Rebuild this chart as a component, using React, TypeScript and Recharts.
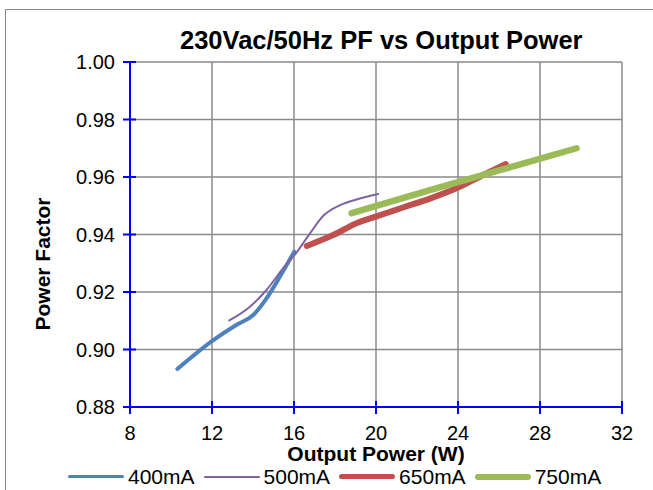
import React from 'react';
import { LineChart, Line, XAxis, YAxis, CartesianGrid } from 'recharts';

const xTicks = [8, 12, 16, 20, 24, 28, 32];
const yTicks = [0.88, 0.9, 0.92, 0.94, 0.96, 0.98, 1.0];

const power400 = [10.31, 11.98, 13.2, 14.01, 14.66, 15.31, 16.01];
const pf400 = [0.8932, 0.9028, 0.9086, 0.912, 0.9178, 0.9253, 0.934];

const power500 = [12.84, 13.85, 14.66, 15.47, 16.13, 16.78, 17.43, 18.24, 19.05, 20.11];
const pf500 = [0.9101, 0.9149, 0.9207, 0.9283, 0.9338, 0.9404, 0.9465, 0.9502, 0.9522, 0.9541];

const power650 = [16.62, 17.91, 19.05, 20.06, 21.32, 22.63, 24.09, 25.23, 26.33];
const pf650 = [0.936, 0.9398, 0.9439, 0.9464, 0.9494, 0.9525, 0.9566, 0.9607, 0.9645];

const power750 = [18.81, 22.63, 26.3, 29.78];
const pf750 = [0.9474, 0.9554, 0.9629, 0.97];

const seriesNames = ['400mA', '500mA', '650mA', '750mA'];
const seriesColors = ['#4F81BD', '#8064A2', '#C0504D', '#9BBB59'];
const seriesWidths = [4, 2, 6, 6.5];

const toPoints = (xs: number[], ys: number[]) => xs.map((x, i) => ({ x, y: ys[i] }));

const seriesData = [
  toPoints(power400, pf400),
  toPoints(power500, pf500),
  toPoints(power650, pf650),
  toPoints(power750, pf750),
];

const FONT = '"Liberation Sans", Arial, sans-serif';

function XTick(props: any) {
  const { x, y, payload } = props;
  return (
    <g>
      <line x1={x} x2={x} y1={y - 6} y2={y + 7} stroke="#0000FF" strokeWidth={2} />
      <text x={x} y={y + 33} textAnchor="middle" fontSize={20} fill="#000" fontFamily={FONT}>
        {payload.value}
      </text>
    </g>
  );
}

function YTick(props: any) {
  const { x, y, payload } = props;
  return (
    <g>
      <line x1={x - 7} x2={x + 6} y1={y} y2={y} stroke="#0000FF" strokeWidth={2} />
      <text x={x - 15} y={y + 7} textAnchor="end" fontSize={20} fill="#000" fontFamily={FONT}>
        {Number(payload.value).toFixed(2)}
      </text>
    </g>
  );
}

export default function App() {
  return (
    <div
      style={{
        position: 'absolute',
        left: 0,
        top: 0,
        width: 653,
        height: 490,
        overflow: 'hidden',
        background: '#fff',
        fontFamily: FONT,
      }}
    >
      <div
        style={{
          position: 'absolute',
          left: 5,
          top: 9,
          width: 800,
          height: 700,
          border: '1.5px solid #8a8a8a',
        }}
      />
      <div
        style={{
          position: 'absolute',
          left: 180,
          width: 400,
          top: 28,
          textAlign: 'center',
          fontSize: 25.5,
          lineHeight: '25px',
          fontWeight: 'bold',
          whiteSpace: 'nowrap',
        }}
      >
        230Vac/50Hz PF vs Output Power
      </div>
      <div style={{ position: 'absolute', left: 0, top: 0 }}>
        <LineChart width={653} height={490} margin={{ top: 62, right: 31, left: 0, bottom: 0 }}>
          <CartesianGrid stroke="#8a8a8a" strokeWidth={1.5} horizontalValues={yTicks} verticalValues={xTicks} />
          <XAxis
            type="number"
            dataKey="x"
            domain={[8, 32]}
            ticks={xTicks}
            interval={0}
            height={83}
            tickSize={0}
            tickMargin={0}
            tickLine={false}
            axisLine={{ stroke: '#0000FF', strokeWidth: 2 }}
            tick={<XTick />}
            label={{
              value: 'Output Power (W)',
              position: 'insideBottom',
              offset: 29,
              fontSize: 21,
              fontWeight: 'bold',
              fill: '#000',
              fontFamily: FONT,
            }}
          />
          <YAxis
            type="number"
            dataKey="y"
            domain={[0.88, 1.0]}
            ticks={yTicks}
            interval={0}
            width={130}
            tickSize={0}
            tickMargin={0}
            tickLine={false}
            axisLine={{ stroke: '#0000FF', strokeWidth: 2 }}
            tick={<YTick />}
            label={{
              content: () => (
                <text
                  x={50}
                  y={264}
                  transform="rotate(-90 50 264)"
                  textAnchor="middle"
                  fontSize={21}
                  fontWeight="bold"
                  fill="#000"
                  fontFamily={FONT}
                >
                  Power Factor
                </text>
              ),
            }}
          />
          {seriesData.map((d, i) => (
            <Line
              key={seriesNames[i]}
              data={d}
              dataKey="y"
              name={seriesNames[i]}
              type="monotone"
              stroke={seriesColors[i]}
              strokeWidth={seriesWidths[i]}
              strokeLinecap="round"
              dot={false}
              activeDot={false}
              isAnimationActive={false}
            />
          ))}
        </LineChart>
      </div>
      <div
        style={{
          position: 'absolute',
          left: 68,
          top: 466,
          display: 'flex',
          alignItems: 'center',
          fontSize: 21,
          lineHeight: '21px',
          whiteSpace: 'nowrap',
        }}
      >
        {seriesNames.map((n, i) => (
          <div key={n} style={{ display: 'flex', alignItems: 'center', marginRight: 9 }}>
            <span
              style={{
                display: 'inline-block',
                width: 56,
                height: Math.max(2, seriesWidths[i] - 0.5),
                borderRadius: 3,
                background: seriesColors[i],
                marginRight: 4,
              }}
            />
            <span>{n}</span>
          </div>
        ))}
      </div>
    </div>
  );
}
